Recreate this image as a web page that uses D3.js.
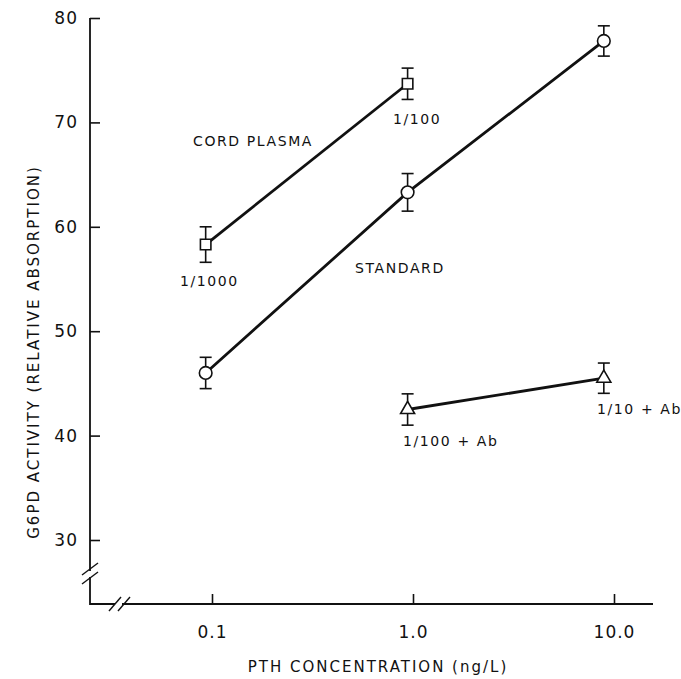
<!DOCTYPE html><html><head><meta charset="UTF-8"><script src="https://d3js.org/d3.v7.min.js"></script><style>
            body { margin: 0; background: #fff; }
            #chart { width: 681px; height: 679px; }
            text { font-family: "DejaVu Sans", sans-serif; fill: #111; }
            .lbl { font-size: 14px; letter-spacing: 1.6px; }
            .title { font-size: 15px; letter-spacing: 2px; }
        </style></head><body><div id="chart"></div><script>
            // x values read slightly left of the decade ticks, as plotted in the original
            const xCord = [0.093, 0.94];
            const yCord = [58.3, 73.7];
            const errCord = [1.7, 1.5];

            const xStd = [0.093, 0.94, 8.9];
            const yStd = [46.0, 63.3, 77.8];
            const errStd = [1.5, 1.8, 1.45];

            const xAb = [0.94, 8.9];
            const yAb = [42.5, 45.5];
            const errAb = [1.5, 1.45];

            const xTicks = [0.1, 1, 10];
            const xTickLabels = ['0.1', '1.0', '10.0'];
            const yTicks = [30, 40, 50, 60, 70, 80];

            const svg = d3.select('#chart').append('svg')
                .attr('width', 681)
                .attr('height', 679);

            const x = d3.scaleLog().domain([0.1, 10]).range([212, 614]);
            const y = d3.scaleLinear().domain([30, 80]).range([540, 18]);
            const axisX = 90, axisY = 604, axisRight = 653;

            // axes
            svg.append('g')
                .attr('transform', `translate(${axisX},0)`)
                .call(d3.axisLeft(y).tickValues(yTicks).tickSize(-10).tickPadding(12));
            svg.append('g')
                .attr('transform', `translate(0,${axisY})`)
                .call(d3.axisBottom(x).tickValues(xTicks).tickSize(-10).tickPadding(22)
                    .tickFormat((d, i) => xTickLabels[i]));
            svg.selectAll('.domain').remove();
            svg.selectAll('.tick line').attr('stroke', '#111').attr('stroke-width', 1.6);
            svg.selectAll('.tick text')
                .attr('fill', '#111')
                .style('font-size', '17px')
                .style('font-family', '"DejaVu Sans", sans-serif')
                .style('letter-spacing', '1px');

            svg.append('path')
                .attr('d', `M${axisX},${y(80)}V${axisY}H${axisRight}`)
                .attr('fill', 'none')
                .attr('stroke', '#111')
                .attr('stroke-width', 1.8);

            // break marks
            svg.append('rect')
                .attr('x', 115).attr('y', axisY - 2).attr('width', 7).attr('height', 4).attr('fill', '#fff');
            svg.append('rect')
                .attr('x', axisX - 2).attr('y', 571).attr('width', 4).attr('height', 6).attr('fill', '#fff');
            [[axisX, 569], [axisX, 578]].forEach(([cx, cy]) => {
                svg.append('line').attr('x1', cx - 8).attr('y1', cy + 6).attr('x2', cx + 8).attr('y2', cy - 6)
                    .attr('stroke', '#111').attr('stroke-width', 1.4);
            });
            [[115, axisY], [124, axisY]].forEach(([cx, cy]) => {
                svg.append('line').attr('x1', cx - 6).attr('y1', cy + 7).attr('x2', cx + 6).attr('y2', cy - 7)
                    .attr('stroke', '#111').attr('stroke-width', 1.4);
            });

            // axis titles
            svg.append('text').attr('class', 'title')
                .attr('transform', 'translate(34,352) rotate(-90)')
                .attr('text-anchor', 'middle').attr('dy', '0.35em')
                .text('G6PD ACTIVITY (RELATIVE ABSORPTION)');
            svg.append('text').attr('class', 'title')
                .attr('x', 378).attr('y', 667)
                .attr('text-anchor', 'middle').attr('dy', '0.35em')
                .text('PTH CONCENTRATION (ng/L)');

            const line = d3.line().x(d => x(d[0])).y(d => y(d[1]));

            function series(xs, ys, errs, shape, size) {
                const pts = xs.map((v, i) => [v, ys[i], errs[i]]);
                svg.append('path').datum(pts)
                    .attr('d', line)
                    .attr('fill', 'none')
                    .attr('stroke', '#111')
                    .attr('stroke-width', 2.8);
                const g = svg.append('g').selectAll('g').data(pts).enter().append('g')
                    .attr('stroke', '#111').attr('stroke-width', 1.6).attr('fill', '#fff');
                g.append('line')
                    .attr('x1', d => x(d[0])).attr('x2', d => x(d[0]))
                    .attr('y1', d => y(d[1] - d[2])).attr('y2', d => y(d[1] + d[2]));
                [-1, 1].forEach(s => {
                    g.append('line')
                        .attr('x1', d => x(d[0]) - 6).attr('x2', d => x(d[0]) + 6)
                        .attr('y1', d => y(d[1] + s * d[2])).attr('y2', d => y(d[1] + s * d[2]));
                });
                g.append('path')
                    .attr('transform', d => `translate(${x(d[0])},${y(d[1])})`)
                    .attr('d', d3.symbol().type(shape).size(size));
            }

            series(xCord, yCord, errCord, d3.symbolSquare, 110);
            series(xStd, yStd, errStd, d3.symbolCircle, 125);
            series(xAb, yAb, errAb, d3.symbolTriangle, 85);

            // annotations
            const notes = [
                ['CORD PLASMA', 193, 146],
                ['1/100', 393, 124],
                ['1/1000', 180, 286],
                ['STANDARD', 355, 273],
                ['1/100 + Ab', 403, 446],
                ['1/10 + Ab', 597, 414]
            ];
            svg.append('g').selectAll('text').data(notes).enter().append('text')
                .attr('class', 'lbl')
                .attr('x', d => d[1]).attr('y', d => d[2])
                .text(d => d[0]);
        </script></body></html>
